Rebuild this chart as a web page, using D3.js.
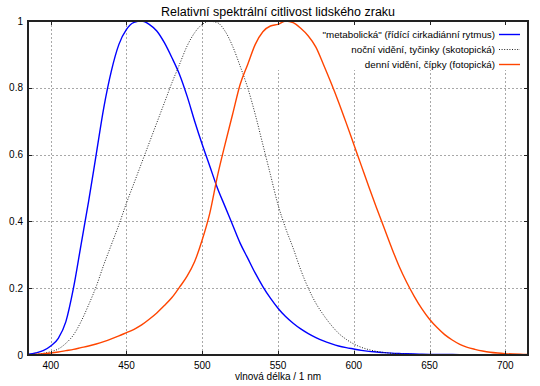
<!DOCTYPE html>
<html>
<head>
<meta charset="utf-8">
<script src="https://cdn.jsdelivr.net/npm/d3@7"></script>
<style>
  body { margin: 0; background: #fff; }
  text { font-family: "Liberation Sans", Arial, sans-serif; fill: #000; }
</style>
</head>
<body>
<div id="chart"></div>
<script>
// Relativni spektralni citlivost

var wavelengths = d3.range(385, 716, 5);

var metabolic = [
  0.002, 0.006, 0.013, 0.027, 0.05, 0.10, 0.20, 0.33, 0.46, 0.60,
  0.74, 0.85, 0.93, 0.975, 0.996, 1.0, 0.99, 0.97, 0.935, 0.89,
  0.84, 0.775, 0.70, 0.63, 0.565, 0.50, 0.445, 0.39, 0.335, 0.29,
  0.245, 0.205, 0.17, 0.14, 0.115, 0.095, 0.078, 0.064, 0.052, 0.042,
  0.034, 0.027, 0.022, 0.018, 0.014, 0.011, 0.009, 0.007, 0.0055, 0.0045,
  0.0037, 0.003, 0.0025, 0.002, 0.0017, 0.0015, 0.0013, 0.0012, 0.0011, 0.001,
  0.0009, 0.0008, 0.0007, 0.0005, 0.0004, 0.0003, 0.0002
];

var scotopic = [
  0.001, 0.002, 0.005, 0.010, 0.018, 0.035, 0.06, 0.10, 0.15, 0.205,
  0.27, 0.33, 0.39, 0.455, 0.515, 0.575, 0.635, 0.695, 0.755, 0.815,
  0.87, 0.925, 0.965, 0.99, 0.999, 0.995, 0.97, 0.925, 0.865, 0.80,
  0.72, 0.63, 0.54, 0.45, 0.38, 0.32, 0.255, 0.20, 0.155, 0.12,
  0.09, 0.065, 0.047, 0.033, 0.023, 0.016, 0.011, 0.0075, 0.005, 0.0035,
  0.0025, 0.0015, 0.001, 0.0007, 0.0005, 0.0003, 0.0002, 0.0002, 0.0001, 0.0001,
  0.0001, 0, 0, 0, 0, 0, 0
];

var photopic = [
  0.001, 0.002, 0.004, 0.006, 0.009, 0.013, 0.017, 0.022, 0.027, 0.033,
  0.040, 0.048, 0.057, 0.067, 0.077, 0.09, 0.107, 0.126, 0.148, 0.172,
  0.203, 0.236, 0.28, 0.345, 0.425, 0.535, 0.63, 0.72, 0.81, 0.87,
  0.93, 0.968, 0.985, 0.99, 1.0, 0.995, 0.978, 0.955, 0.922, 0.87,
  0.815, 0.757, 0.695, 0.631, 0.567, 0.503, 0.441, 0.381, 0.321, 0.265,
  0.217, 0.175, 0.138, 0.107, 0.082, 0.061, 0.045, 0.032, 0.023, 0.017,
  0.012, 0.0082, 0.0058, 0.0041, 0.0029, 0.0021, 0.0015
];

var xTicks = [400, 450, 500, 550, 600, 650, 700];
var yTicks = [0, 0.2, 0.4, 0.6, 0.8, 1];

var seriesNames = [
  '"metabolická" (řídící cirkadiánní rytmus)',
  'noční vidění, tyčinky (skotopická)',
  'denní vidění, čípky (fotopická)'
];

var title = "Relativní spektrální citlivost lidského zraku",
    xTitle = "vlnová délka / 1 nm";

var width = 540,
    height = 386,
    margin = {left: 28, right: 12, top: 21, bottom: 31};

var series = [
  {name: seriesNames[0], values: metabolic, color: "#0000ff", w: 1.4, dash: null},
  {name: seriesNames[1], values: scotopic, color: "#222", w: 1, dash: "1,1.6"},
  {name: seriesNames[2], values: photopic, color: "#ff4500", w: 1.4, dash: null}
];

var svg = d3.select("#chart").append("svg")
  .attr("width", width)
  .attr("height", height);

var x = d3.scaleLinear()
  .domain([385, 715])
  .range([margin.left, width - margin.right]);

var y = d3.scaleLinear()
  .domain([0, 1])
  .range([height - margin.bottom, margin.top]);

var x0 = x.range()[0], x1 = x.range()[1],
    y0 = y.range()[0], y1 = y.range()[1];

// grid
var grid = svg.append("g")
  .attr("stroke", "#a8a8a8")
  .attr("stroke-width", 1)
  .attr("stroke-dasharray", "2,2");

grid.selectAll(".gx").data(xTicks).enter()
  .append("line")
  .attr("x1", function(d) { return Math.round(x(d)) + 0.5; })
  .attr("x2", function(d) { return Math.round(x(d)) + 0.5; })
  .attr("y1", y0)
  .attr("y2", y1);

grid.selectAll(".gy").data(yTicks.slice(1, -1)).enter()
  .append("line")
  .attr("x1", x0)
  .attr("x2", x1)
  .attr("y1", function(d) { return Math.round(y(d)) + 0.5; })
  .attr("y2", function(d) { return Math.round(y(d)) + 0.5; });

// legend background hides the grid
svg.append("rect")
  .attr("x", 265)
  .attr("y", y1)
  .attr("width", x1 - 265)
  .attr("height", 49)
  .attr("fill", "#fff");

// curves
svg.append("clipPath").attr("id", "clip")
  .append("rect")
  .attr("x", x0).attr("y", y1)
  .attr("width", x1 - x0).attr("height", y0 - y1);

var line = d3.line()
  .x(function(d, i) { return x(wavelengths[i]); })
  .y(function(d) { return y(d); })
  .curve(d3.curveMonotoneX);

svg.append("g").attr("clip-path", "url(#clip)")
  .selectAll("path").data(series).enter()
  .append("path")
  .attr("d", function(d) { return line(d.values); })
  .attr("fill", "none")
  .attr("stroke", function(d) { return d.color; })
  .attr("stroke-width", function(d) { return d.w; })
  .attr("stroke-dasharray", function(d) { return d.dash; });

// ticks (inward, mirrored)
var ticks = svg.append("g").attr("stroke", "#222").attr("stroke-width", 1);
xTicks.forEach(function(t) {
  var px = Math.round(x(t)) + 0.5;
  ticks.append("line").attr("x1", px).attr("x2", px).attr("y1", y0).attr("y2", y0 - 4);
  ticks.append("line").attr("x1", px).attr("x2", px).attr("y1", y1).attr("y2", y1 + 4);
});
yTicks.forEach(function(t) {
  var py = Math.round(y(t)) + 0.5;
  ticks.append("line").attr("x1", x0).attr("x2", x0 + 4).attr("y1", py).attr("y2", py);
  ticks.append("line").attr("x1", x1).attr("x2", x1 - 4).attr("y1", py).attr("y2", py);
});

// border
svg.append("rect")
  .attr("x", x0).attr("y", y1)
  .attr("width", x1 - x0).attr("height", y0 - y1)
  .attr("fill", "none")
  .attr("stroke", "#222")
  .attr("stroke-width", 2);

// tick labels
svg.append("g").selectAll("text").data(xTicks).enter()
  .append("text")
  .attr("x", function(d) { return x(d); })
  .attr("y", y0 + 14)
  .attr("text-anchor", "middle")
  .attr("font-size", 10)
  .text(function(d) { return d; });

svg.append("g").selectAll("text").data(yTicks).enter()
  .append("text")
  .attr("x", x0 - 5)
  .attr("y", function(d) { return y(d) + 3.5; })
  .attr("text-anchor", "end")
  .attr("font-size", 10)
  .text(function(d) { return d; });

// titles
svg.append("text")
  .attr("x", (x0 + x1) / 2)
  .attr("y", 16)
  .attr("text-anchor", "middle")
  .attr("font-size", 12.5)
  .text(title);

svg.append("text")
  .attr("x", (x0 + x1) / 2)
  .attr("y", 380)
  .attr("text-anchor", "middle")
  .attr("font-size", 10)
  .text(xTitle);

// legend
var legend = svg.append("g").selectAll("g").data(series).enter()
  .append("g")
  .attr("transform", function(d, i) { return "translate(0," + (34 + i * 15) + ")"; });

legend.append("text")
  .attr("x", 495)
  .attr("y", 3.5)
  .attr("text-anchor", "end")
  .attr("font-size", 9.8)
  .text(function(d) { return d.name; });

legend.append("line")
  .attr("x1", 499)
  .attr("x2", 520)
  .attr("y1", 0.5)
  .attr("y2", 0.5)
  .attr("stroke", function(d) { return d.color; })
  .attr("stroke-width", function(d) { return d.w; })
  .attr("stroke-dasharray", function(d) { return d.dash; });
</script>
</body>
</html>
